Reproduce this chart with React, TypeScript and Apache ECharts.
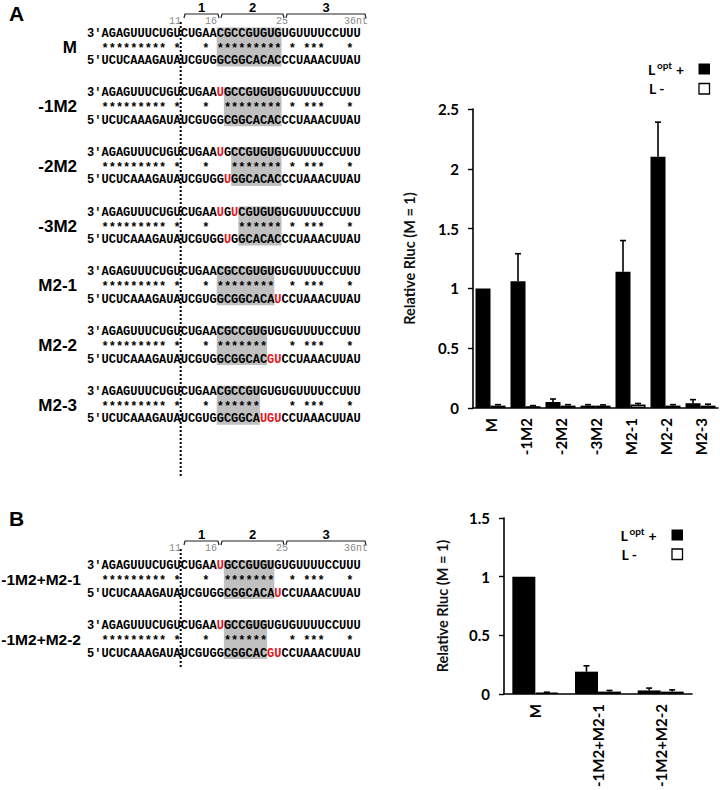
import React, { useEffect, useRef } from "react";
import * as echarts from "echarts";

// ---------- Bar chart data ----------
const catsA = ["M", "-1M2", "-2M2", "-3M2", "M2-1", "M2-2", "M2-3"];
const loptA = [1.0, 1.06, 0.05, 0.02, 1.14, 2.1, 0.04];
const loptErrA = [0, 0.23, 0.025, 0.008, 0.26, 0.29, 0.03];
const lminusA = [0.02, 0.015, 0.02, 0.02, 0.03, 0.02, 0.02];
const lminusErrA = [0.008, 0.005, 0.008, 0.006, 0.008, 0.008, 0.012];

const catsB = ["M", "-1M2+M2-1", "-1M2+M2-2"];
const loptB = [1.0, 0.19, 0.03];
const loptErrB = [0, 0.05, 0.02];
const lminusB = [0.01, 0.02, 0.02];
const lminusErrB = [0.005, 0.01, 0.015];

const yMaxA = 2.5;
const yMaxB = 1.5;
const yStep = 0.5;

// ---------- Sequence panel data ----------
const rowNamesA = ["M", "-1M2", "-2M2", "-3M2", "M2-1", "M2-2", "M2-3"];
const topSeqA = [
  "AGAGUUUCUGUCUGAACGCCGUGUGUGUUUUCCUUU",
  "AGAGUUUCUGUCUGAA[U]GCCGUGUGUGUUUUCCUUU",
  "AGAGUUUCUGUCUGAA[U]GCCGUGUGUGUUUUCCUUU",
  "AGAGUUUCUGUCUGAA[U]G[U]CGUGUGUGUUUUCCUUU",
  "AGAGUUUCUGUCUGAACGCCGUGUGUGUUUUCCUUU",
  "AGAGUUUCUGUCUGAACGCCGUGUGUGUUUUCCUUU",
  "AGAGUUUCUGUCUGAACGCCGUGUGUGUUUUCCUUU",
];
const starsA = [
  "********* *   * ********* * ***   * ",
  "********* *   *  ******** * ***   * ",
  "********* *   *   ******* * ***   * ",
  "********* *   *    ****** * ***   * ",
  "********* *   * ********  * ***   * ",
  "********* *   * *******   * ***   * ",
  "********* *   * ******    * ***   * ",
];
const botSeqA = [
  "UCUCAAAGAUAUCGUGGCGGCACACCCUAAACUUAU",
  "UCUCAAAGAUAUCGUGGCGGCACACCCUAAACUUAU",
  "UCUCAAAGAUAUCGUGG[U]GGCACACCCUAAACUUAU",
  "UCUCAAAGAUAUCGUGG[U]GGCACACCCUAAACUUAU",
  "UCUCAAAGAUAUCGUGGCGGCACA[U]CCUAAACUUAU",
  "UCUCAAAGAUAUCGUGGCGGCAC[GU]CCUAAACUUAU",
  "UCUCAAAGAUAUCGUGGCGGCA[UGU]CCUAAACUUAU",
];
const shadeA: [number, number][] = [
  [17, 25], [18, 25], [19, 25], [20, 25], [17, 24], [17, 23], [17, 22],
];

const rowNamesB = ["-1M2+M2-1", "-1M2+M2-2"];
const topSeqB = [
  "AGAGUUUCUGUCUGAA[U]GCCGUGUGUGUUUUCCUUU",
  "AGAGUUUCUGUCUGAA[U]GCCGUGUGUGUUUUCCUUU",
];
const starsB = [
  "********* *   *  *******  * ***   * ",
  "********* *   *  ******   * ***   * ",
];
const botSeqB = [
  "UCUCAAAGAUAUCGUGGCGGCACA[U]CCUAAACUUAU",
  "UCUCAAAGAUAUCGUGGCGGCAC[GU]CCUAAACUUAU",
];
const shadeB: [number, number][] = [[18, 24], [18, 23]];

const posLabels = ["11", "16", "25", "36nt"];
const regionLabels = ["1", "2", "3"];

// ---------- layout constants ----------
const CW = 7.2;
const SEQ_X = 101.5;
const PRIME_X = 87;
const MONO = '"Liberation Mono", "DejaVu Sans Mono", monospace';
const SANS = '"Liberation Sans", Arial, sans-serif';
const RED = "#e8141b";

function parseSeq(s: string) {
  const segs: { t: string; red: boolean; idx: number }[] = [];
  let idx = 0;
  let i = 0;
  while (i < s.length) {
    if (s[i] === "[") {
      const j = s.indexOf("]", i);
      const t = s.slice(i + 1, j);
      segs.push({ t, red: true, idx });
      idx += t.length;
      i = j + 1;
    } else {
      let j = i;
      while (j < s.length && s[j] !== "[") j++;
      const t = s.slice(i, j);
      segs.push({ t, red: false, idx });
      idx += t.length;
      i = j;
    }
  }
  return segs;
}

function txt(x: number, y: number, text: string, font: string, fill: string, align: string, z = 10) {
  return {
    type: "text", x, y, z, silent: true,
    style: { text, font, fill, textAlign: align, textVerticalAlign: "middle", align, verticalAlign: "middle" },
  };
}

function seqLine(s: string, y: number, prime: string, els: any[]) {
  els.push(txt(PRIME_X, y, prime, `bold 12px ${MONO}`, "#000", "left"));
  for (const seg of parseSeq(s)) {
    els.push(txt(SEQ_X + CW * seg.idx, y, seg.t, `bold 12px ${MONO}`, seg.red ? RED : "#000", "left"));
  }
}

function buildBlock(name: string, top: string, stars: string, bot: string, shade: [number, number], y0: number, labelX: number, labelSize: number, els: any[]) {
  const yStar = y0 + 15;
  const yBot = y0 + 27.5;
  els.push({
    type: "rect", z: 1, silent: true,
    shape: { x: SEQ_X + CW * (shade[0] - 1), y: y0 - 6, width: CW * (shade[1] - shade[0] + 1), height: yBot - y0 + 11.5 },
    style: { fill: "#c0c0c0" },
  });
  seqLine(top, y0, "3\u2032", els);
  els.push(txt(SEQ_X, yStar, stars, `bold 12px ${MONO}`, "#000", "left"));
  seqLine(bot, yBot, "5\u2032", els);
  els.push(txt(labelX, y0 + 13.5, name, `bold ${labelSize}px ${SANS}`, "#000", "right"));
}

function buildHeader(yb: number, els: any[]) {
  const brackets: [number, number][] = [[184, 219], [221, 284], [286, 366]];
  brackets.forEach(([a, b], k) => {
    els.push({
      type: "polyline", silent: true,
      shape: { points: [[a, yb + 4], [a + 1, yb], [b - 1, yb], [b, yb + 4]] },
      style: { stroke: "#222", lineWidth: 1.2, fill: null },
    });
    els.push(txt((a + b) / 2, yb - 6.5, regionLabels[k], `bold 13px ${SANS}`, "#000", "center"));
  });
  const px = [181, 211, 282, 344];
  const al = ["right", "center", "center", "left"];
  posLabels.forEach((t, k) => {
    els.push(txt(px[k], yb + 7.5, t, `10px ${MONO}`, "#8a8a8a", al[k]));
  });
}

function legend(x: number, y1: number, y2: number, sqx: number, els: any[]) {
  els.push(txt(x, y1, "L", "bold 14px Lato", "#000", "left"));
  els.push(txt(x + 9, y1 - 4.5, "opt", "bold 10px Lato", "#000", "left"));
  els.push(txt(x + 28, y1, "+", "bold 14px Lato", "#000", "left"));
  els.push({ type: "rect", silent: true, shape: { x: sqx, y: y1 - 5.5, width: 11.5, height: 11 }, style: { fill: "#000" } });
  els.push(txt(x + 1, y2, "L -", "bold 14px Lato", "#000", "left"));
  els.push({ type: "rect", silent: true, shape: { x: sqx + 0.5, y: y2 - 5, width: 10.5, height: 10.5 }, style: { fill: "#fff", stroke: "#000", lineWidth: 1.3 } });
}

function errSeries(xi: number, vals: number[], errs: number[], offset: number) {
  return {
    type: "custom",
    xAxisIndex: xi,
    yAxisIndex: xi,
    z: 5,
    encode: { x: 0, y: [1, 2] },
    data: vals.map((v, i) => [i, v, v + errs[i]]),
    renderItem: (params: any, api: any) => {
      const i = api.value(0);
      const v = api.value(1);
      const e = api.value(2);
      if (e <= v) return { type: "group", children: [] };
      const p0 = api.coord([i, v]);
      const p1 = api.coord([i, e]);
      const x = p0[0] + offset;
      return {
        type: "group",
        children: [
          { type: "line", shape: { x1: x, y1: p0[1], x2: x, y2: p1[1] }, style: { stroke: "#000", lineWidth: 1.6 } },
          { type: "line", shape: { x1: x - 3, y1: p1[1], x2: x + 3, y2: p1[1] }, style: { stroke: "#000", lineWidth: 1.6 } },
        ],
      };
    },
  };
}

function axisPair(gi: number, cats: string[], max: number, nameGap: number) {
  const x = {
    type: "category", gridIndex: gi, data: cats,
    axisLine: { show: true, lineStyle: { color: "#000", width: 1.6 } },
    axisTick: { show: false },
    axisLabel: { interval: 0, rotate: 90, margin: 10, fontFamily: "Lato", fontSize: 15, fontWeight: "bold", color: "#000" },
    splitLine: { show: false },
  };
  const y = {
    type: "value", gridIndex: gi, min: 0, max, interval: yStep,
    name: "Relative Rluc (M = 1)", nameLocation: "middle", nameGap,
    nameTextStyle: { fontFamily: "Lato", fontSize: 14.5, fontWeight: "bold", color: "#111" },
    axisLine: { show: true, lineStyle: { color: "#000", width: 1.6 } },
    axisTick: { show: true, length: 5, lineStyle: { color: "#000", width: 1.4 } },
    axisLabel: { margin: 14, fontFamily: "Lato", fontSize: 15, fontWeight: "bold", color: "#000" },
    splitLine: { show: false },
  };
  return [x, y];
}

export default function App() {
  const ref = useRef<HTMLDivElement>(null);
  useEffect(() => {
    if (!ref.current) return;
    const chart = echarts.init(ref.current, null, { renderer: "svg" });
    const els: any[] = [];

    // Panel letters
    els.push(txt(9, 13, "A", `bold 21px ${SANS}`, "#000", "left"));
    els.push(txt(9, 518, "B", `bold 21px ${SANS}`, "#000", "left"));

    // Panel A sequences
    buildHeader(14, els);
    const rowA0 = 33.5;
    const stepA = 59.7;
    rowNamesA.forEach((n, i) => buildBlock(n, topSeqA[i], starsA[i], botSeqA[i], shadeA[i], rowA0 + stepA * i, 77, 17, els));
    const dotX = SEQ_X + CW * 11;
    els.push({ type: "line", z: 20, silent: true, shape: { x1: dotX, y1: 22, x2: dotX, y2: 478 }, style: { stroke: "#000", lineWidth: 2, lineDash: [2, 2] } });

    // Panel B sequences
    buildHeader(541, els);
    const rowB0 = 566;
    const stepB = 60;
    rowNamesB.forEach((n, i) => buildBlock(n, topSeqB[i], starsB[i], botSeqB[i], shadeB[i], rowB0 + stepB * i, 81, 15.5, els));
    els.push({ type: "line", z: 20, silent: true, shape: { x1: dotX, y1: 549, x2: dotX, y2: 668 }, style: { stroke: "#000", lineWidth: 2, lineDash: [2, 2] } });

    // Legends
    legend(648, 69, 88.5, 698.5, els);
    legend(620.5, 535, 554, 671.5, els);

    const [xA, yA] = axisPair(0, catsA, yMaxA, 56);
    const [xB, yB] = axisPair(1, catsB, yMaxB, 54);

    const wA = 15;
    const wB = 23;

    chart.setOption({
      animation: false,
      textStyle: { fontFamily: "Lato" },
      grid: [
        { left: 473, top: 109, width: 245, height: 299 },
        { left: 504, top: 518, width: 188, height: 181 },
      ],
      xAxis: [xA, xB],
      yAxis: [yA, yB],
      graphic: { elements: els },
      series: [
        { name: "Lopt +", type: "bar", xAxisIndex: 0, yAxisIndex: 0, data: loptA, barWidth: wA, barGap: "0%", itemStyle: { color: "#000" } },
        { name: "L -", type: "bar", xAxisIndex: 0, yAxisIndex: 0, data: lminusA, barWidth: wA, barGap: "0%", itemStyle: { color: "#fff", borderColor: "#000", borderWidth: 1.5 } },
        errSeries(0, loptA, loptErrA, -wA / 2),
        errSeries(0, lminusA, lminusErrA, wA / 2),
        { name: "Lopt +", type: "bar", xAxisIndex: 1, yAxisIndex: 1, data: loptB, barWidth: wB, barGap: "0%", itemStyle: { color: "#000" } },
        { name: "L -", type: "bar", xAxisIndex: 1, yAxisIndex: 1, data: lminusB, barWidth: wB, barGap: "0%", itemStyle: { color: "#fff", borderColor: "#000", borderWidth: 1.5 } },
        errSeries(1, loptB, loptErrB, -wB / 2),
        errSeries(1, lminusB, lminusErrB, wB / 2),
      ],
    });
    return () => chart.dispose();
  }, []);
  return <div ref={ref} style={{ position: "absolute", left: 0, top: 0, width: 720, height: 790, background: "#fff" }} />;
}
